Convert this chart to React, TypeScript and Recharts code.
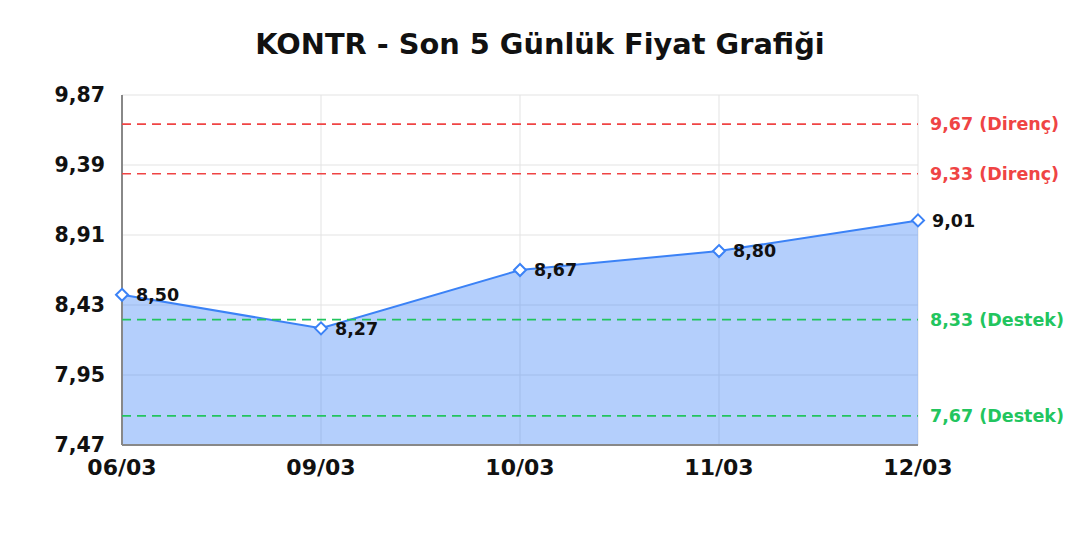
import { Area, AreaChart, CartesianGrid, LabelList, ReferenceLine, XAxis, YAxis } from "recharts";

const days = ["06/03", "09/03", "10/03", "11/03", "12/03"];
const prices = [8.5, 8.27, 8.67, 8.8, 9.01];
const yTicks = [7.47, 7.95, 8.43, 8.91, 9.39, 9.87];
const resistances = [9.67, 9.33];
const supports = [8.33, 7.67];

const FONT = "'DejaVu Sans', Verdana, sans-serif";
const BLUE = "#3b82f6";
const RED = "#ef4444";
const GREEN = "#22c55e";
const W = 1080;
const H = 540;
const MARGIN = { top: 95, right: 162, bottom: 0, left: 0 };

const fmt = (v: number) => v.toFixed(2).replace(".", ",");

function Diamond(props: any) {
  const { cx, cy } = props;
  if (cx == null || cy == null) return null;
  const r = 6;
  return (
    <path
      d={`M${cx},${cy - r}L${cx + r},${cy}L${cx},${cy + r}L${cx - r},${cy}Z`}
      fill="#fff"
      stroke={BLUE}
      strokeWidth={2}
    />
  );
}

export default function App() {
  const data = days.map((d, i) => ({ day: d, price: prices[i] }));

  const refLabel = (text: string, color: string) => ({
    value: text,
    position: "right" as const,
    offset: 12,
    fill: color,
    fontSize: 17.5,
    fontWeight: "bold",
    fontFamily: FONT,
  });

  // overlay chart uses the same axes (invisible) so the dashed levels sit on top of the area fill
  const overlayAxes = [
    <XAxis key="x" dataKey="day" height={95} tick={false} tickLine={false} axisLine={false} />,
    <YAxis key="y" width={122} domain={[7.47, 9.87]} ticks={yTicks} tick={false} tickLine={false} axisLine={false} allowDataOverflow />,
  ];

  return (
    <div style={{ position: "fixed", left: 0, top: 0, width: W, height: H, background: "#fff", fontFamily: FONT }}>
      <div
        style={{
          position: "absolute",
          top: 26,
          width: W,
          textAlign: "center",
          fontSize: 28.8,
          lineHeight: "36px",
          fontWeight: "bold",
          color: "#111",
          fontFamily: FONT,
        }}
      >
        KONTR - Son 5 Günlük Fiyat Grafiği
      </div>
      <div style={{ position: "absolute", left: 0, top: 0 }}>
        <AreaChart width={W} height={H} data={data} margin={MARGIN}>
          <CartesianGrid stroke="#e3e3e3" strokeWidth={1} />
          <XAxis
            dataKey="day"
            height={95}
            tickLine={false}
            axisLine={{ stroke: "#888", strokeWidth: 2 }}
            tick={{ fontSize: 22, fontWeight: "bold", fill: "#111", fontFamily: FONT }}
            tickMargin={8}
            interval={0}
          />
          <YAxis
            width={122}
            domain={[7.47, 9.87]}
            ticks={yTicks}
            tickFormatter={fmt}
            tickLine={false}
            axisLine={{ stroke: "#888", strokeWidth: 2 }}
            tick={{ fontSize: 20.5, fontWeight: "bold", fill: "#111", fontFamily: FONT }}
            tickMargin={11}
            allowDataOverflow
          />
          <Area
            type="linear"
            dataKey="price"
            stroke={BLUE}
            strokeWidth={2}
            fill={BLUE}
            fillOpacity={0.38}
            dot={<Diamond />}
            activeDot={false}
            isAnimationActive={false}
          >
            <LabelList
              dataKey="price"
              position="right"
              offset={14}
              formatter={(v: any) => fmt(Number(v))}
              style={{ fontSize: 17.5, fontWeight: "bold", fill: "#111", fontFamily: FONT }}
            />
          </Area>
        </AreaChart>
      </div>
      <div style={{ position: "absolute", left: 0, top: 0, pointerEvents: "none" }}>
        <AreaChart width={W} height={H} data={data} margin={MARGIN}>
          {overlayAxes}
          {resistances.map((v) => (
            <ReferenceLine
              key={`r${v}`}
              y={v}
              stroke={RED}
              strokeDasharray="9 6"
              strokeWidth={1.6}
              label={refLabel(`${fmt(v)} (Direnç)`, RED)}
            />
          ))}
          {supports.map((v) => (
            <ReferenceLine
              key={`s${v}`}
              y={v}
              stroke={GREEN}
              strokeDasharray="9 6"
              strokeWidth={1.6}
              label={refLabel(`${fmt(v)} (Destek)`, GREEN)}
            />
          ))}
        </AreaChart>
      </div>
    </div>
  );
}
